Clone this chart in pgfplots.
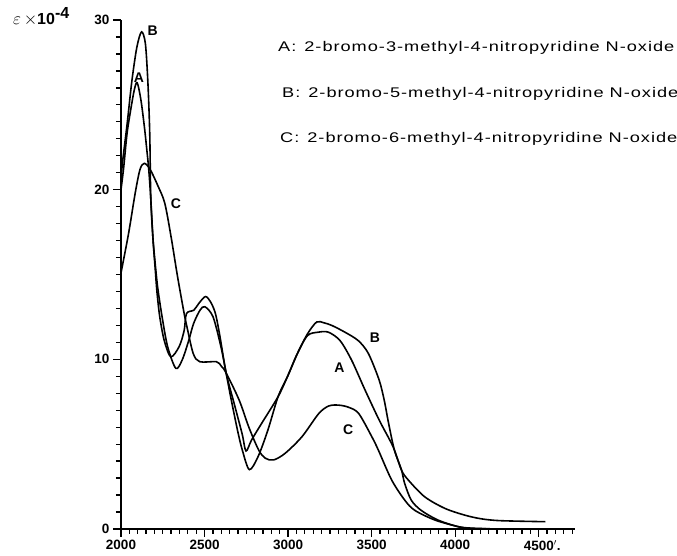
\documentclass[border=0pt]{standalone}
\usepackage{fontspec}
\setmainfont{Liberation Sans}
\newfontfamily\legfont[FakeStretch=1.3,LetterSpace=7]{Liberation Sans}
\usepackage{pgfplots}
\pgfplotsset{compat=1.18}
\begin{document}
\begin{tikzpicture}[x=1pt,y=1pt]
\path[use as bounding box] (-121,-27) rectangle (556,529);
\begin{axis}[
  at={(0,0)}, anchor=south west, scale only axis,
  width=453.7pt, height=509pt,
  xmin=2000, xmax=4715, ymin=0, ymax=30,
  axis lines*=left,
  axis line style={line width=1.6pt},
  clip=false,
  xtick={2000,2500,...,4500},
  xticklabels={2000,2500,3000,3500,4000,{4500\rlap{$'$.}}},
  minor xtick={2050,2100,...,4700},
  ytick={0,10,20,30},
  minor ytick={1,...,29},
  tick align=outside,
  major tick length=8pt, minor tick length=5pt,
  every tick/.style={black, line width=1.3pt},
  every minor tick/.style={black, line width=1.3pt},
  tick label style={font=\fontsize{13.5}{13.5}\selectfont\bfseries},
  /pgf/number format/assume math mode=true,
  /pgf/number format/1000 sep={},
]
% Curve A
\addplot[black, line width=1.6pt, smooth, tension=0.5] coordinates {
(2000,20.0) (2016,21.3) (2036,23.3) (2058,24.7) (2080,25.9) (2097,26.3)
(2119,25.3) (2140,23.7) (2155,22.3) (2166,21.2) (2178,19.5) (2192,17.0)
(2205,15.3) (2215,14.0) (2232,12.5) (2259,11.1) (2298,10.15) (2348,10.75)
(2378,11.7) (2392,12.7) (2436,12.9) (2466,13.3) (2505,13.7) (2535,13.4)
(2565,12.7) (2593,11.3) (2629,9.2) (2677,7.4) (2725,5.6) (2748,4.6)
(2781,5.24) (2840,6.2) (2940,7.8) (2997,9.0) (3056,10.35) (3116,11.4)
(3181,11.6) (3241,11.6) (3311,11.1) (3380,9.95) (3460,8.2) (3546,6.4)
(3628,4.85) (3678,3.48) (3718,2.9) (3817,1.9) (3937,1.22) (4056,0.82)
(4156,0.6) (4272,0.49) (4540,0.43)
};
% Curve B
\addplot[black, line width=1.6pt, smooth, tension=0.5] coordinates {
(2000,20.6) (2009,21.6) (2037,23.9) (2065,26.4) (2095,28.4) (2123,29.3)
(2146,28.6) (2161,26.3) (2172,23.3) (2178,19.6) (2190,17.3) (2205,15.6)
(2220,14.2) (2246,12.5) (2279,10.75) (2328,9.47) (2366,9.96) (2405,11.1)
(2434,12.1) (2473,12.9) (2502,13.1) (2551,12.5) (2599,10.7) (2629,9.2)
(2656,7.8) (2697,5.83) (2726,4.65) (2768,3.5) (2820,4.26) (2879,5.83)
(2940,7.8) (2997,9.0) (3056,10.35) (3116,11.5) (3171,12.2) (3215,12.15)
(3261,12.0) (3340,11.6) (3420,11.1) (3480,10.35) (3544,8.8) (3575,7.6)
(3600,6.3) (3636,4.65) (3678,3.5) (3697,2.7) (3737,1.7) (3796,1.1)
(3896,0.53) (4016,0.14) (4100,0.05) (4250,0.0)
};
% Curve C
\addplot[black, line width=1.6pt, smooth, tension=0.5] coordinates {
(2000,15.1) (2045,17.4) (2085,19.8) (2114,21.2) (2140,21.55) (2174,21.2)
(2222,20.2) (2262,19.2) (2300,17.2) (2338,14.9) (2378,12.7) (2395,11.9)
(2432,10.35) (2471,9.86) (2571,9.86) (2600,9.6) (2629,9.2) (2707,7.6)
(2765,6.0) (2824,4.65) (2864,4.17) (2913,4.07) (2982,4.46) (3083,5.44)
(3183,6.8) (3243,7.25) (3303,7.3) (3363,7.17) (3423,6.8) (3503,5.4)
(3540,4.65) (3619,2.9) (3698,1.7) (3758,1.1) (3878,0.53) (4018,0.14)
(4100,0.03) (4300,0.0)
};
\begin{scope}[every node/.style={font=\fontsize{14}{14}\selectfont\bfseries}]
\node at (axis cs:2190,29.35) {B};
\node at (axis cs:2108,26.6) {A};
\node at (axis cs:2328,19.15) {C};
\node at (axis cs:3520,11.25) {B};
\node at (axis cs:3307,9.5) {A};
\node at (axis cs:3360,5.83) {C};
\end{scope}
\end{axis}
\node[anchor=west, inner sep=0pt, font=\fontsize{16}{16}\selectfont] at (-108,512)
  {$\varepsilon$\,$\times$\textbf{10}$^{\textbf{-4}}$};
\begin{scope}[every node/.style={anchor=west, inner sep=0pt, font=\fontsize{14}{14}\legfont}]
\node at (157,481) {A:\hspace{8pt}2-bromo-3-methyl-4-nitropyridine N-oxide};
\node at (161,435) {B:\hspace{8pt}2-bromo-5-methyl-4-nitropyridine N-oxide};
\node at (159,390) {C:\hspace{8pt}2-bromo-6-methyl-4-nitropyridine N-oxide};
\end{scope}
\end{tikzpicture}
\end{document}
